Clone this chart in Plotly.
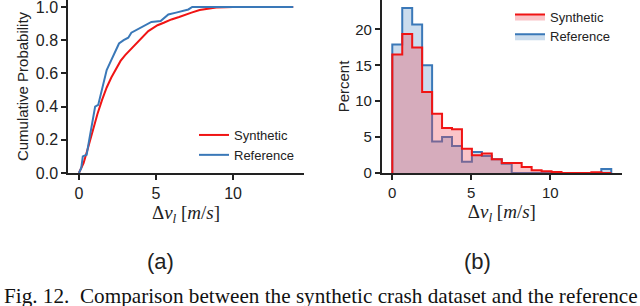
import plotly.graph_objects as go

# ---------------- data ----------------
# (a) cumulative distributions of delta v_l [m/s]
syn_cdf_x = [0, 0.3, 0.6, 0.9, 1.2, 1.5, 1.8, 2.1, 2.4, 2.7, 3.0, 3.3, 3.6, 3.9, 4.2,
             4.5, 4.8, 5.1, 5.5, 6.0, 6.5, 6.75, 7.3, 7.83, 8.4, 8.9, 9.5, 10.0, 13.9]
syn_cdf_y = [0, 0.06, 0.155, 0.26, 0.355, 0.44, 0.515, 0.575, 0.63, 0.675, 0.71, 0.74,
             0.77, 0.80, 0.83, 0.855, 0.873, 0.89, 0.905, 0.925, 0.94, 0.947, 0.966,
             0.982, 0.992, 0.997, 0.999, 1.0, 1.0]

ref_cdf_x = [0, 0.15, 0.25, 0.5, 0.65, 0.8, 0.95, 1.05, 1.25, 1.4, 1.6, 1.8, 2.0, 2.2,
             2.4, 2.6, 2.9, 3.2, 3.4, 3.7, 4.0, 4.4, 4.7, 5.3, 5.6, 5.8, 6.3, 6.8, 7.1,
             7.35, 13.9]
ref_cdf_y = [0, 0.03, 0.10, 0.11, 0.19, 0.28, 0.35, 0.40, 0.41, 0.47, 0.56, 0.62, 0.66,
             0.70, 0.75, 0.78, 0.80, 0.815, 0.845, 0.86, 0.875, 0.895, 0.91, 0.915, 0.94,
             0.955, 0.966, 0.976, 0.985, 1.0, 1.0]

# (b) histograms in percent, shared bin edges
bin_edges = [0.0, 0.63, 1.26, 1.89, 2.52, 3.15, 3.78, 4.41, 5.04, 5.67, 6.30, 6.93,
             7.56, 8.19, 8.82, 9.45, 10.08, 10.71, 11.34, 11.97, 12.60, 13.23, 13.86]
syn_pct = [16.5, 19.35, 17.5, 11.3, 8.26, 6.26, 6.1, 3.39, 2.46, 2.7, 1.9, 1.4, 1.4,
           0.84, 0.37, 0.23, 0.14, 0.0, 0.0, 0.0, 0.1, 0.0]
ref_pct = [17.9, 23.0, 20.7, 15.0, 4.4, 5.0, 3.76, 1.58, 2.92, 2.37, 1.9, 1.3, 0.0,
           0.0, 0.0, 0.0, 0.0, 0.0, 0.0, 0.0, 0.0, 0.56]

x_ticks = [0, 5, 10]
cdf_ticks = [0.0, 0.2, 0.4, 0.6, 0.8, 1.0]
pct_ticks = [0, 5, 10, 15, 20]

RED = "#f01414"
BLUE = "#3a78b8"
RED_FILL = "rgba(240,70,85,0.32)"
BLUE_FILL = "rgba(70,130,190,0.28)"

W, H = 640, 306
SANS = "Liberation Sans, Arial, sans-serif"
SERIF = "Liberation Serif, Times New Roman, serif"


def step_xy(edges, vals):
    xs = [edges[0]] + list(edges) + [edges[-1]]
    ys = [0] + list(vals) + [vals[-1], 0]
    return xs, ys


fig = go.Figure()

fig.add_trace(go.Scatter(x=syn_cdf_x, y=syn_cdf_y, mode="lines", name="Synthetic",
                         line=dict(color=RED, width=2), xaxis="x", yaxis="y",
                         legend="legend"))
fig.add_trace(go.Scatter(x=ref_cdf_x, y=ref_cdf_y, mode="lines", name="Reference",
                         line=dict(color=BLUE, width=2), xaxis="x", yaxis="y",
                         legend="legend"))

rx, ry = step_xy(bin_edges, ref_pct)
sx, sy = step_xy(bin_edges, syn_pct)
# reference drawn first, synthetic on top
fig.add_trace(go.Scatter(x=rx, y=ry, mode="lines", line_shape="hv", name="Reference",
                         line=dict(color=BLUE, width=2), fill="tozeroy",
                         fillcolor=BLUE_FILL, xaxis="x2", yaxis="y2",
                         legend="legend2", legendrank=2))
fig.add_trace(go.Scatter(x=sx, y=sy, mode="lines", line_shape="hv", name="Synthetic",
                         line=dict(color=RED, width=2), fill="tozeroy",
                         fillcolor=RED_FILL, xaxis="x2", yaxis="y2",
                         legend="legend2", legendrank=1))

ydom = [1 - 173 / H, 1]


def axis_common(size):
    return dict(showgrid=False, zeroline=False, showline=True, linecolor="#222",
                linewidth=1.5, ticks="outside", ticklen=5, tickwidth=1.5,
                tickcolor="#222", ticklabeloverflow="allow",
                tickfont=dict(family=SANS, size=size, color="#222"))


xtitle = "Δ<i>v</i><sub><i>l</i></sub> [<i>m</i>/<i>s</i>]"

fig.update_layout(
    width=W, height=H, margin=dict(l=0, r=0, t=0, b=0),
    paper_bgcolor="white", plot_bgcolor="white",
    xaxis=dict(domain=[68 / W, 304 / W], range=[-0.71, 14.6], tickvals=x_ticks,
               anchor="y", automargin=False,
               title=dict(text=xtitle, font=dict(family=SERIF, size=19, color="#222"),
                          standoff=2),
               **axis_common(16)),
    yaxis=dict(domain=ydom, range=[0, 1.042], tickvals=cdf_ticks, tickformat=".1f",
               anchor="x", automargin=False,
               title=dict(text="Cumulative Probability",
                          font=dict(family=SANS, size=15, color="#222"), standoff=4),
               **axis_common(16)),
    xaxis2=dict(domain=[381.7 / W, 622 / W], range=[-0.67, 14.54], tickvals=x_ticks,
                anchor="y2", automargin=False,
                title=dict(text=xtitle, font=dict(family=SERIF, size=19, color="#222"),
                           standoff=2),
                **axis_common(15)),
    yaxis2=dict(domain=ydom, range=[0, 24.1], tickvals=pct_ticks, anchor="x2",
                automargin=False,
                title=dict(text="Percent", font=dict(family=SANS, size=15, color="#222"),
                           standoff=2),
                **axis_common(15)),
    legend=dict(x=194 / W, y=1 - 120 / H, xanchor="left", yanchor="top",
                bgcolor="rgba(0,0,0,0)", font=dict(family=SANS, size=13, color="#222"),
                tracegroupgap=0),
    legend2=dict(x=510 / W, y=1 - 1.5 / H, xanchor="left", yanchor="top",
                 bgcolor="rgba(0,0,0,0)", font=dict(family=SANS, size=13, color="#222"),
                 tracegroupgap=0, traceorder="normal"),
    annotations=[
        dict(text="(a)", x=160 / W, y=1 - 261 / H, xref="paper", yref="paper",
             showarrow=False, xanchor="center", yanchor="middle",
             font=dict(family=SANS, size=22, color="#222")),
        dict(text="(b)", x=477 / W, y=1 - 261 / H, xref="paper", yref="paper",
             showarrow=False, xanchor="center", yanchor="middle",
             font=dict(family=SANS, size=22, color="#222")),
        dict(text="Fig. 12.\u00a0\u00a0Comparison between the synthetic crash dataset and the reference",
             x=2 / W, y=1 - 296 / H, xref="paper", yref="paper", showarrow=False,
             xanchor="left", yanchor="middle",
             font=dict(family=SERIF, size=21.2, color="#111")),
    ],
)

fig.write_html("out.html", config={"displayModeBar": False},
               post_script="document.body.style.margin='0px';")
